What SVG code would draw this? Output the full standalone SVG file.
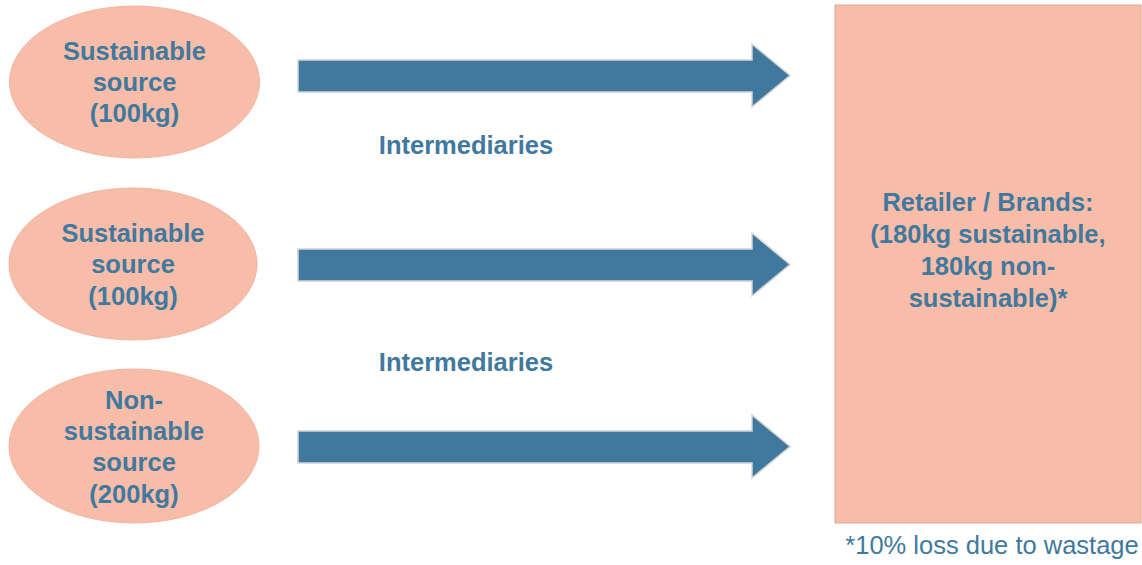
<svg xmlns="http://www.w3.org/2000/svg" width="1142" height="565" viewBox="0 0 1142 565">
<style>
.src{fill:#F8BDA9;stroke:#F2B49F;stroke-width:1}
.box{fill:#F8BDA9;stroke:#D9A898;stroke-width:1}
.arr{fill:#41799E;stroke:#D4D4D4;stroke-width:1.5}
.t{font-family:"Liberation Sans",Arial,sans-serif;font-weight:bold;font-size:25.5px;fill:#41799E;text-anchor:middle}
.n{font-family:"Liberation Sans",Arial,sans-serif;font-size:25.5px;fill:#41799E;text-anchor:middle}
</style>
<rect width="1142" height="565" fill="#ffffff"/>
<g id="source1">
<ellipse class="src" cx="134.5" cy="82" rx="125" ry="76"/>
<text class="t" x="134.5" y="60">Sustainable</text>
<text class="t" x="134.5" y="91">source</text>
<text class="t" x="134.5" y="122">(100kg)</text>
</g>
<g id="source2">
<ellipse class="src" cx="133" cy="264" rx="124" ry="76"/>
<text class="t" x="133" y="242">Sustainable</text>
<text class="t" x="133" y="273">source</text>
<text class="t" x="133" y="305">(100kg)</text>
</g>
<g id="source3">
<ellipse class="src" cx="134" cy="446" rx="125" ry="77"/>
<text class="t" x="134" y="409">Non-</text>
<text class="t" x="134" y="440">sustainable</text>
<text class="t" x="134" y="471">source</text>
<text class="t" x="134" y="503">(200kg)</text>
</g>
<g id="retailer">
<rect class="box" x="835" y="5" width="306" height="518"/>
<text class="t" x="988" y="211">Retailer / Brands:</text>
<text class="t" x="988" y="243">(180kg sustainable,</text>
<text class="t" x="988" y="275">180kg non-</text>
<text class="t" x="988" y="307">sustainable)*</text>
</g>
<g id="connectors">
<path class="arr" d="M298 60 H752 V44 L790 75.5 L752 107 V92 H298 Z"/>
<path class="arr" d="M298 249 H752 V233 L790 264.5 L752 296 V281 H298 Z"/>
<path class="arr" d="M298 431 H752 V415 L790 446.5 L752 478 V463 H298 Z"/>
</g>
<g id="labels">
<text class="t" x="466" y="154">Intermediaries</text>
<text class="t" x="466" y="371">Intermediaries</text>
<text class="n" x="992" y="554">*10% loss due to wastage</text>
</g>
</svg>
